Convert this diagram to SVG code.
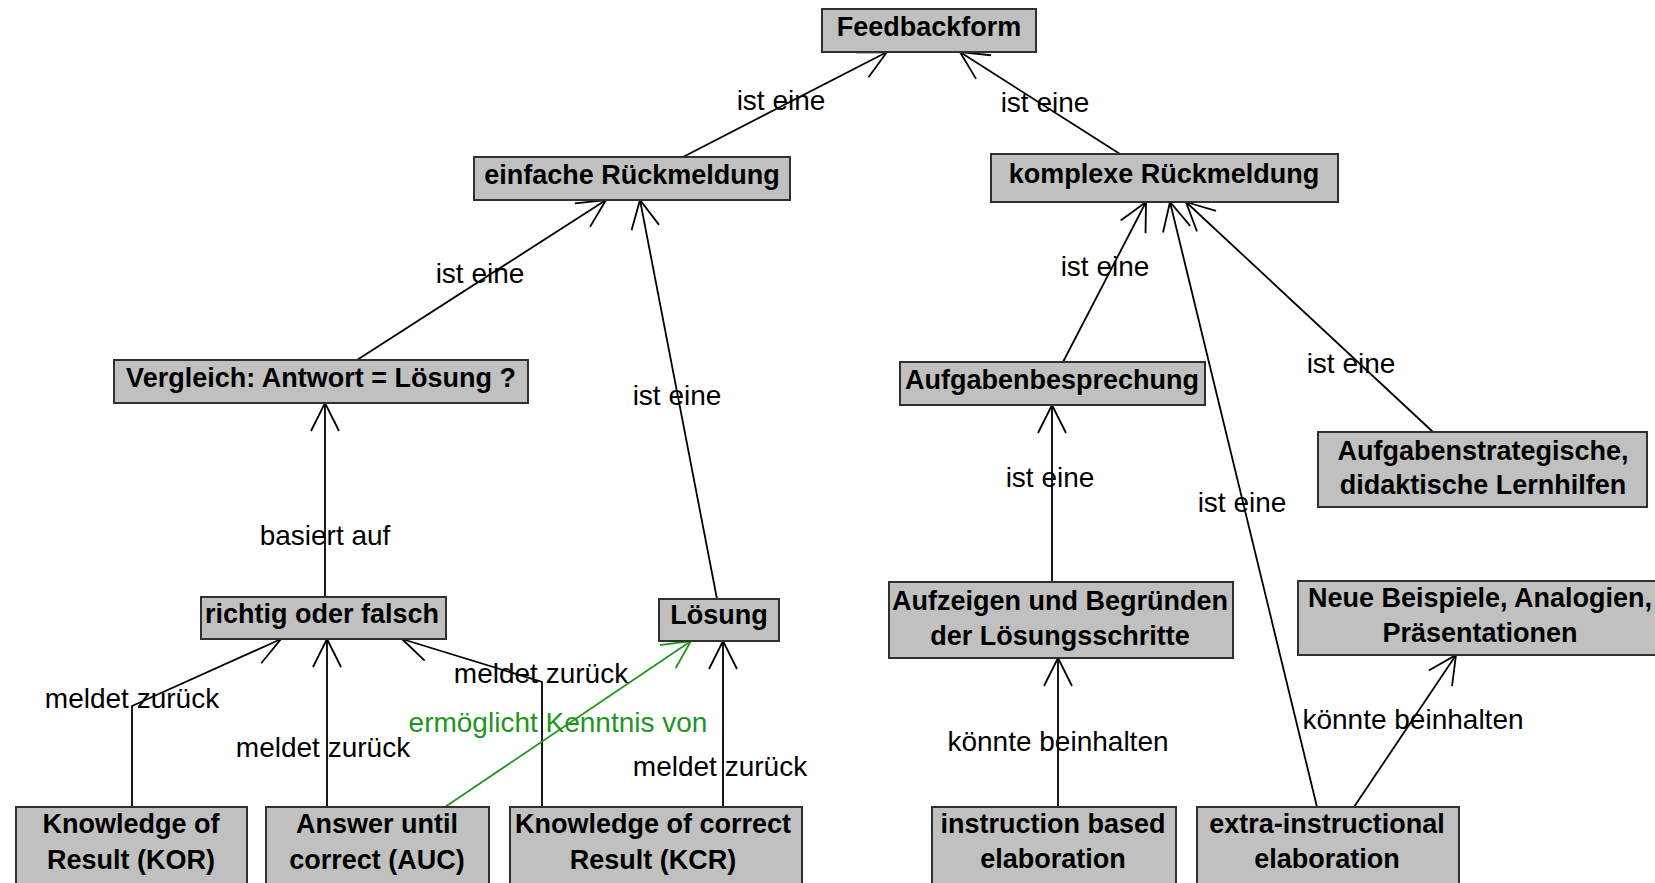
<svg xmlns="http://www.w3.org/2000/svg" width="1655" height="883" viewBox="0 0 1655 883">
<style>
.box{fill:#c0c0c0;stroke:#303030;stroke-width:2}
.nt{font-family:"Liberation Sans",Arial,sans-serif;font-weight:bold;font-size:27px;fill:#000;text-anchor:middle}
.lb{font-family:"Liberation Sans",Arial,sans-serif;font-size:28px;fill:#000;text-anchor:middle}
.lg{fill:#1e961e}
.e{fill:none;stroke:#000;stroke-width:1.8;marker-end:url(#arr)}
.eg{fill:none;stroke:#1e961e;stroke-width:1.8;marker-end:url(#arrg)}
</style>
<defs>
<marker id="arr" markerUnits="userSpaceOnUse" markerWidth="40" markerHeight="40" viewBox="-32 -20 40 40" refX="0" refY="0" orient="auto">
<path d="M-28,-14 L0,0 L-28,14" fill="none" stroke="#000" stroke-width="1.8"/>
</marker>
<marker id="arrg" markerUnits="userSpaceOnUse" markerWidth="40" markerHeight="40" viewBox="-32 -20 40 40" refX="0" refY="0" orient="auto">
<path d="M-28,-14 L0,0 L-28,14" fill="none" stroke="#1e961e" stroke-width="1.8"/>
</marker>
</defs>
<rect width="1655" height="883" fill="#fff"/>
<g id="connectors">
<path class="e" d="M683,157 L887,52"/>
<path class="e" d="M1120,154 L960,52"/>
<path class="e" d="M357,360 L606,200"/>
<path class="e" d="M717,599 L640,200"/>
<path class="e" d="M1063,362 L1146,202"/>
<path class="e" d="M1317,807 L1170,202"/>
<path class="e" d="M1433,432 L1186,202"/>
<path class="e" d="M325,597 L325,403"/>
<path class="e" d="M1052,582 L1052,405"/>
<path class="e" d="M1058,807 L1058,658"/>
<path class="e" d="M1354,807 L1456,655"/>
<path class="e" d="M132,807 L132,706 L281,639"/>
<path class="e" d="M327,807 L327,639"/>
<path class="e" d="M542,807 L542,682 L402,639"/>
<path class="e" d="M723,807 L723,641"/>
<path class="eg" d="M445,807 L691,641"/>
<text class="lb" x="781" y="110">ist eine</text>
<text class="lb" x="1045" y="112">ist eine</text>
<text class="lb" x="480" y="283">ist eine</text>
<text class="lb" x="677" y="405">ist eine</text>
<text class="lb" x="1105" y="276">ist eine</text>
<text class="lb" x="1351" y="373">ist eine</text>
<text class="lb" x="1050" y="487">ist eine</text>
<text class="lb" x="1242" y="512">ist eine</text>
<text class="lb" x="325" y="545">basiert auf</text>
<text class="lb" x="132" y="708">meldet zurück</text>
<text class="lb" x="323" y="757">meldet zurück</text>
<text class="lb" x="541" y="683">meldet zurück</text>
<text class="lb lg" x="558" y="732">ermöglicht Kenntnis von</text>
<text class="lb" x="720" y="776">meldet zurück</text>
<text class="lb" x="1058" y="751">könnte beinhalten</text>
<text class="lb" x="1413" y="729">könnte beinhalten</text>
</g>
<g id="n-feedbackform"><rect class="box" x="822" y="9" width="214" height="43"/><text class="nt" x="929" y="36">Feedbackform</text></g>
<g id="n-einfache"><rect class="box" x="474" y="157" width="316" height="43"/><text class="nt" x="632" y="184">einfache Rückmeldung</text></g>
<g id="n-komplexe"><rect class="box" x="991" y="154" width="347" height="48"/><text class="nt" x="1164" y="183">komplexe Rückmeldung</text></g>
<g id="n-vergleich"><rect class="box" x="114" y="360" width="414" height="43"/><text class="nt" x="321" y="387">Vergleich: Antwort = Lösung ?</text></g>
<g id="n-aufgabenbesprechung"><rect class="box" x="900" y="362" width="305" height="43"/><text class="nt" x="1052" y="389">Aufgabenbesprechung</text></g>
<g id="n-aufgabenstrategische"><rect class="box" x="1318" y="432" width="329" height="75"/><text class="nt" x="1483" y="460">Aufgabenstrategische,</text><text class="nt" x="1483" y="494">didaktische Lernhilfen</text></g>
<g id="n-richtig"><rect class="box" x="201" y="597" width="245" height="42"/><text class="nt" x="322" y="623">richtig oder falsch</text></g>
<g id="n-loesung"><rect class="box" x="659" y="599" width="120" height="42"/><text class="nt" x="719" y="624">Lösung</text></g>
<g id="n-aufzeigen"><rect class="box" x="889" y="582" width="344" height="76"/><text class="nt" x="1060" y="610">Aufzeigen und Begründen</text><text class="nt" x="1060" y="645">der Lösungsschritte</text></g>
<g id="n-neue"><rect class="box" x="1298" y="581" width="362" height="74"/><text class="nt" x="1480" y="607">Neue Beispiele, Analogien,</text><text class="nt" x="1480" y="642">Präsentationen</text></g>
<g id="n-kor"><rect class="box" x="16" y="807" width="231" height="90"/><text class="nt" x="131" y="833">Knowledge of</text><text class="nt" x="131" y="869">Result (KOR)</text></g>
<g id="n-auc"><rect class="box" x="266" y="807" width="223" height="90"/><text class="nt" x="377" y="833">Answer until</text><text class="nt" x="377" y="869">correct (AUC)</text></g>
<g id="n-kcr"><rect class="box" x="510" y="807" width="292" height="90"/><text class="nt" x="653" y="833">Knowledge of correct</text><text class="nt" x="653" y="869">Result (KCR)</text></g>
<g id="n-instruction"><rect class="box" x="932" y="807" width="244" height="90"/><text class="nt" x="1053" y="833">instruction based</text><text class="nt" x="1053" y="868">elaboration</text></g>
<g id="n-extra"><rect class="box" x="1197" y="807" width="262" height="90"/><text class="nt" x="1327" y="833">extra-instructional</text><text class="nt" x="1327" y="868">elaboration</text></g>
</svg>
